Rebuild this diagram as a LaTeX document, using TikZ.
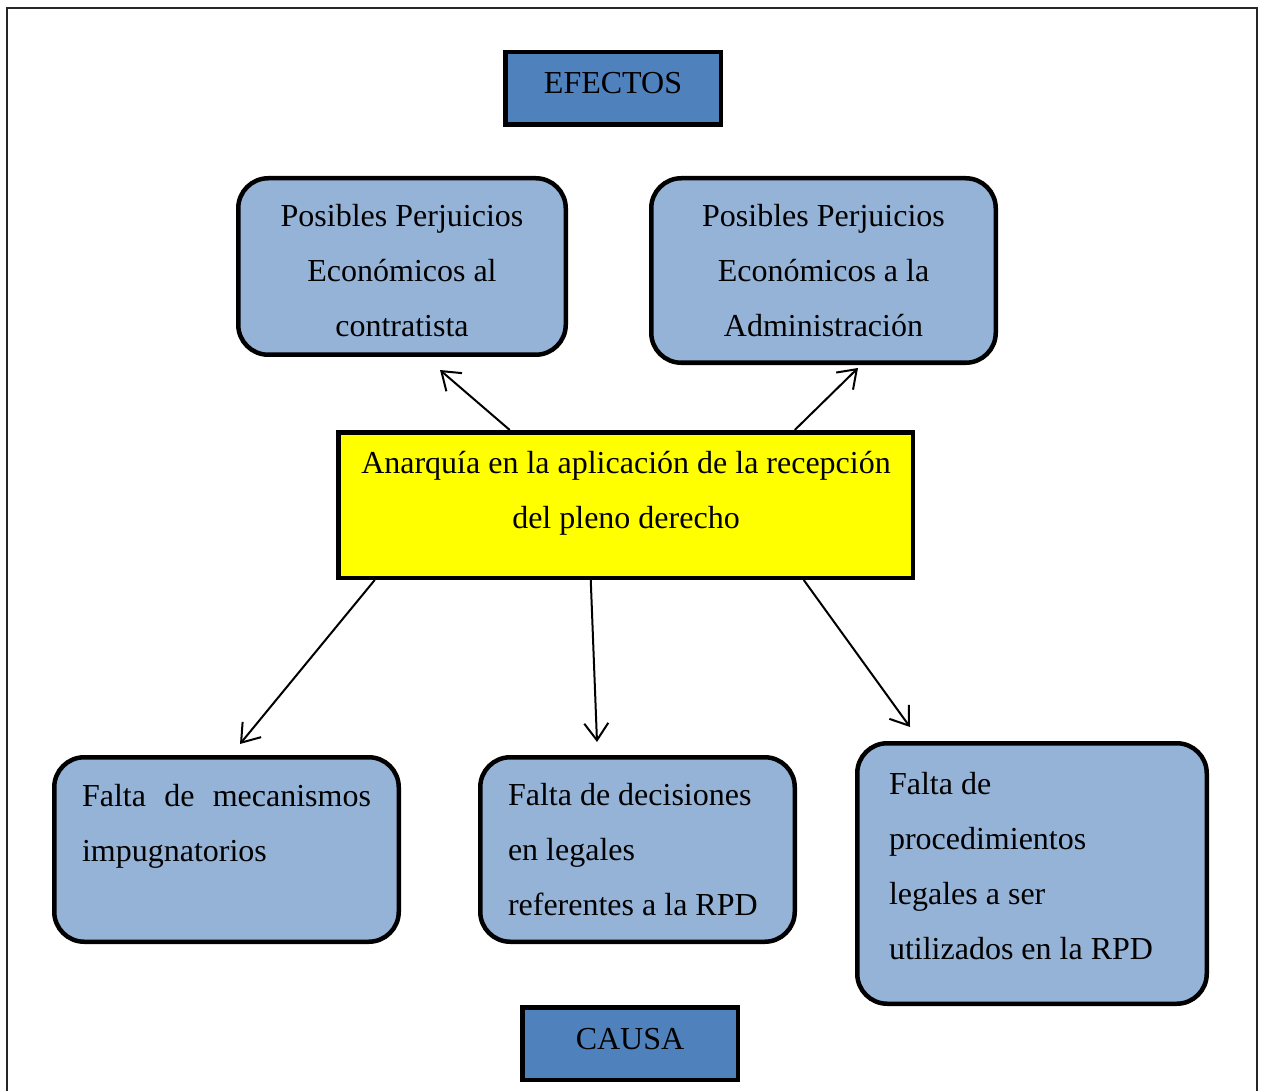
\documentclass[tikz,border=0pt]{standalone}
\usepackage{fontspec}
\setmainfont{Liberation Serif}
\usetikzlibrary{arrows.meta}
\definecolor{darkblue}{HTML}{4F81BD}
\definecolor{lightblue}{HTML}{95B3D7}
\definecolor{pureyellow}{HTML}{FFFF00}
\begin{document}
\begin{tikzpicture}[x=1pt,y=-1pt,
  lbl/.style={font=\fontsize{32}{55}\selectfont, inner sep=0pt},
  rbox/.style={draw=black, line width=4.5pt, fill=lightblue, rounded corners=30pt, inner sep=0pt},
  hbox/.style={draw=black, line width=4.5pt, fill=darkblue, inner sep=0pt},
  ybox/.style={draw=black, line width=4.5pt, fill=pureyellow, inner sep=0pt},
  arr/.style={line width=2pt, -{Straight Barb[length=17pt,width=24pt,line width=2pt]}}]
\useasboundingbox (0,0) rectangle (1264,1091);
\fill[white] (0,0) rectangle (1264,1091);
\draw[line width=2pt, draw=black!85] (7,1100) -- (7,8) -- (1257,8) -- (1257,1100);

% boxes
\node[hbox, minimum width=215.5pt, minimum height=72.5pt] (ef) at (613,88.5) {};
\node[hbox, minimum width=215.5pt, minimum height=72.5pt] (ca) at (630,1043.5) {};
\node[rbox, minimum width=327.5pt, minimum height=176.5pt] (tl) at (402,266.5) {};
\node[rbox, minimum width=344.5pt, minimum height=184.5pt] (tr) at (823.5,270.5) {};
\node[ybox, minimum width=574.5pt, minimum height=145.5pt] (Y) at (625.5,505) {};
\node[rbox, minimum width=344.5pt, minimum height=184.5pt] (bl) at (226.5,849.5) {};
\node[rbox, minimum width=314.5pt, minimum height=184.5pt] (bm) at (637.5,849.5) {};
\node[rbox, minimum width=349.5pt, minimum height=260.5pt] (br) at (1032,873.5) {};

% texts
\node[lbl] (eft) at (613,83) {EFECTOS};
\node[lbl] (cat) at (630,1039) {CAUSA};
\node[lbl, align=center] (tlt) at (402,271) {Posibles Perjuicios\\Económicos al\\contratista};
\node[lbl, align=center] (trt) at (823.5,271) {Posibles Perjuicios\\Económicos a la\\Administración};
\node[lbl, align=center] (Yt) at (626,493) {Anarquía en la aplicación de la recepción\\del pleno derecho};
\node[lbl, text width=289pt, align=flush left] (blt) at (226.5,826) {Falta\hfill de\hfill mecanismos\\impugnatorios};
\node[lbl, text width=260pt, align=flush left] (bmt) at (638,850) {Falta de decisiones\\en legales\\referentes a la RPD};
\node[lbl, text width=275pt, align=flush left] (brt) at (1026.5,866.5) {Falta de\\procedimientos\\legales a ser\\utilizados en la RPD};

% arrow ends
\coordinate (e1) at (440,370);
\coordinate (e2) at (858,368);
\coordinate (e3) at (240,744);
\coordinate (e4) at (597,742);
\coordinate (e5) at (910,727);

\draw[arr] ([xshift=173.75pt]Y.north west) -- (e1);
\draw[arr] ([xshift=458.75pt]Y.north west) -- (e2);
\draw[arr] ([xshift=38.75pt]Y.south west) -- (e3);
\draw[arr] ([xshift=254.75pt]Y.south west) -- (e4);
\draw[arr] ([xshift=467.75pt]Y.south west) -- (e5);
\end{tikzpicture}
\end{document}
